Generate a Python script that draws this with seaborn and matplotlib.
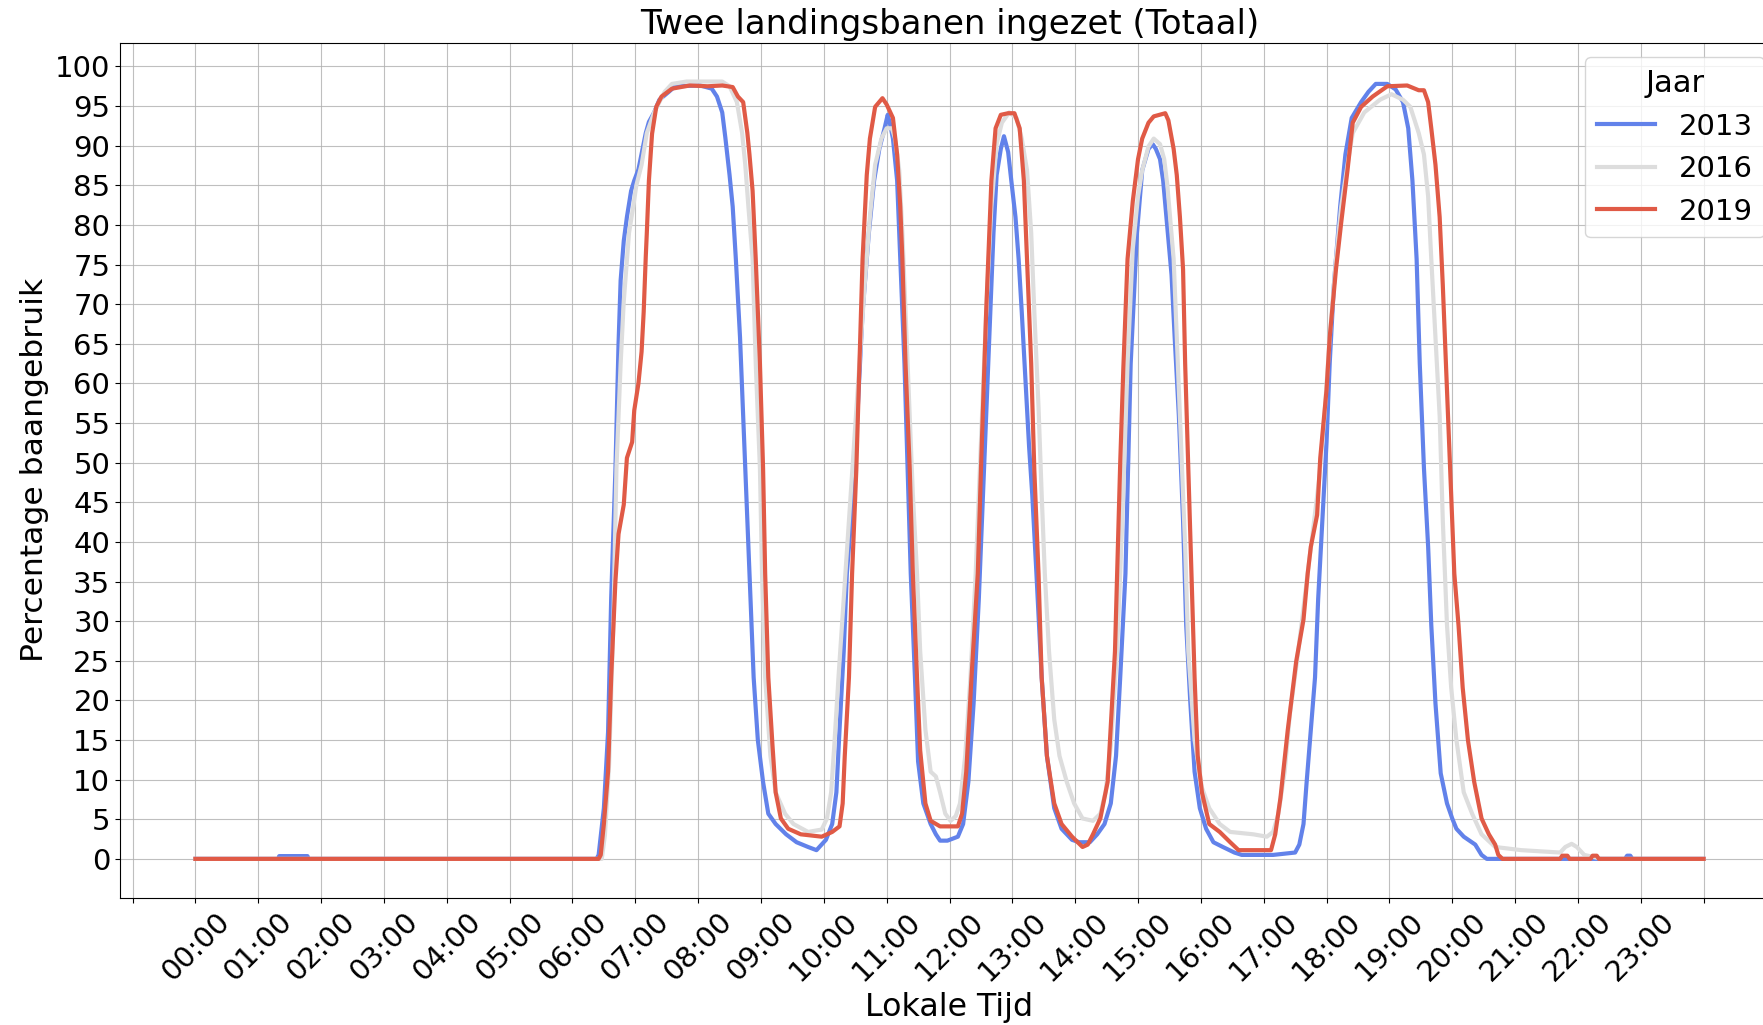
import numpy as np
import pandas as pd
import matplotlib
matplotlib.use("Agg")
import matplotlib.pyplot as plt
import seaborn as sns

# ---- data (minutes after midnight, percentage runway use) ----
t_2013 = [0, 79, 80, 107, 108, 383, 385, 390, 394, 397, 401, 404, 406, 409, 412, 416, 419, 423, 426, 430,
          433, 438, 443, 452, 458, 482, 493, 498, 503, 506, 510, 513, 516, 520, 523, 527, 530, 533, 537, 542,
          547, 554, 564, 574, 585, 593, 602, 608, 612, 615, 619, 622, 626, 629, 632, 637, 643, 648, 653, 658,
          661, 663, 666, 670, 673, 677, 680, 683, 687, 690, 695, 702, 707, 711, 718, 728, 733, 738, 743, 748,
          753, 758, 762, 765, 769, 772, 776, 779, 783, 786, 789, 793, 796, 799, 803, 808, 813, 820, 827, 837,
          844, 854, 861, 868, 874, 879, 883, 888, 893, 899, 904, 910, 914, 917, 921, 924, 928, 932, 935, 939,
          943, 946, 950, 954, 959, 965, 972, 981, 992, 999, 1029, 1050, 1054, 1058, 1061, 1065, 1069, 1072, 1076, 1080,
          1083, 1087, 1093, 1098, 1104, 1113, 1120, 1127, 1138, 1146, 1153, 1158, 1162, 1166, 1169, 1173, 1177, 1180, 1184, 1189,
          1195, 1200, 1204, 1211, 1222, 1228, 1233, 1365, 1367, 1370, 1372, 1440]
p_2013 = [0, 0, 0.35, 0.35, 0, 0, 0.5, 6.4, 16, 33, 49, 65, 73, 78, 81, 84.3, 85.6, 87, 89, 91.6,
          93, 94.2, 95.8, 96.8, 97.5, 97.6, 97.2, 96.2, 94.2, 91, 86.3, 82.3, 75.7, 65.8, 55.8, 42.7, 32.8, 22.9, 15, 9.7,
          5.7, 4.4, 3.1, 2.1, 1.5, 1.1, 2.4, 4.4, 8.4, 16.3, 26.2, 36, 42.7, 49.3, 55.8, 69, 79, 85.6, 89.6, 92.2,
          93.9, 92.9, 90.9, 85.6, 75.7, 62.5, 49.3, 36, 22.9, 12.3, 7, 4.4, 3.1, 2.3, 2.3, 2.8, 4.4, 9.7, 19.6, 32.8,
          49.3, 65.8, 79, 86.3, 89.6, 91.2, 89.2, 85.6, 81, 75.7, 69, 59.2, 52, 46, 36, 22.9, 13, 6.4, 3.8, 2.4,
          2.1, 2.1, 3.1, 4.4, 7, 13, 22.9, 36, 62.5, 79, 86.9, 89.6, 90.2, 89.6, 88.3, 85.6, 79.7, 73.7, 65.8, 55.9,
          42.7, 29.5, 19.6, 11, 6.4, 3.8, 2.1, 1.5, 0.8, 0.5, 0.5, 0.8, 1.8, 4.4, 9.7, 16.3, 22.9, 32.8, 42.7, 52.6,
          62.5, 72.4, 82.3, 88.9, 93.5, 95.5, 96.8, 97.8, 97.8, 97.1, 95.5, 92.2, 85.6, 75.7, 62.5, 49.3, 39.4, 29.5, 19.6, 10.8,
          7, 5.1, 3.8, 2.8, 1.8, 0.5, 0, 0, 0.4, 0.4, 0, 0]

t_2016 = [0, 388, 391, 395, 399, 402, 406, 409, 414, 418, 421, 426, 431, 438, 448, 455, 469, 503, 510, 517,
          522, 525, 528, 532, 535, 539, 541, 544, 549, 554, 563, 571, 585, 598, 603, 607, 610, 614, 619, 624,
          629, 634, 639, 644, 649, 655, 660, 665, 668, 672, 675, 678, 682, 685, 689, 692, 697, 702, 707, 711,
          716, 721, 726, 730, 735, 740, 745, 750, 755, 760, 765, 770, 777, 784, 789, 794, 798, 801, 805, 808,
          811, 815, 820, 825, 832, 839, 847, 857, 864, 869, 874, 880, 885, 890, 895, 900, 904, 910, 915, 921,
          925, 928, 934, 937, 941, 945, 948, 954, 961, 968, 978, 988, 1010, 1023, 1029, 1034, 1040, 1045, 1051, 1056,
          1062, 1067, 1073, 1078, 1083, 1089, 1094, 1100, 1105, 1116, 1131, 1142, 1153, 1160, 1168, 1173, 1177, 1180, 1184, 1188,
          1191, 1195, 1199, 1204, 1211, 1219, 1228, 1241, 1266, 1303, 1308, 1314, 1319, 1326, 1343, 1440]
p_2016 = [0, 0, 3, 12, 29.5, 49.3, 62.5, 70.4, 79, 82.3, 85, 87.6, 91.6, 94.2, 96.8, 97.8, 98.1, 98.1, 97.5, 95.5,
          91.6, 87.6, 82.3, 75.7, 62.5, 49.3, 36, 22.9, 13, 8.4, 5.7, 4.4, 3.4, 3.7, 5.1, 8.4, 14.3, 22.9, 32.8, 42.7,
          52.6, 62.5, 72.4, 81, 87.6, 90.9, 92.2, 92.2, 90.9, 86.9, 79, 69, 55.9, 46, 36, 26.2, 16.3, 11, 10.4, 8.4,
          5.7, 4.8, 5.4, 7, 13, 22.9, 36, 52.6, 69, 82.3, 90.2, 92.9, 94.2, 93.5, 90.9, 86.9, 79, 69, 57, 46,
          36, 26.2, 17.6, 13, 9.7, 7, 5.1, 4.8, 5.7, 8.4, 14.3, 26.2, 42.7, 62.5, 77, 83.6, 86.9, 89.9, 90.9, 90.2,
          88.3, 85, 75.7, 65.8, 52.6, 39.4, 26.2, 15, 9, 6.4, 4.4, 3.4, 3.1, 2.8, 3.4, 5.7, 11, 18.3, 24.2, 29.5,
          36.1, 41.4, 48, 55.9, 65.8, 75.7, 82.3, 87.6, 91.6, 94.2, 95.8, 96.5, 95.8, 94.9, 91.6, 88.9, 83.6, 75.7, 65.8, 55.9,
          42.7, 29.5, 21.6, 15, 8.4, 5.7, 3.1, 1.5, 1.1, 0.8, 1.5, 1.9, 1.5, 0.5, 0, 0]

t_2019 = [0, 385, 387, 390, 394, 397, 401, 404, 409, 412, 417, 419, 423, 426, 428, 430, 431, 433, 436, 440,
          445, 455, 472, 489, 503, 513, 518, 523, 527, 529, 532, 535, 539, 542, 544, 547, 551, 554, 559, 566,
          578, 598, 608, 615, 618, 620, 624, 627, 631, 634, 637, 641, 644, 649, 656, 660, 666, 670, 673, 675,
          678, 682, 685, 689, 692, 697, 702, 711, 728, 732, 736, 741, 747, 750, 755, 760, 764, 769, 776, 782,
          787, 791, 794, 798, 801, 805, 808, 813, 820, 827, 837, 847, 852, 857, 864, 871, 878, 883, 886, 890,
          895, 900, 904, 910, 915, 926, 929, 934, 937, 940, 943, 945, 948, 951, 954, 957, 961, 968, 978, 988,
          996, 1027, 1031, 1036, 1043, 1051, 1058, 1062, 1065, 1071, 1074, 1080, 1083, 1089, 1094, 1100, 1105, 1113, 1124, 1138,
          1157, 1168, 1173, 1177, 1180, 1184, 1188, 1191, 1195, 1199, 1202, 1206, 1210, 1215, 1221, 1228, 1235, 1241, 1244, 1248,
          1303, 1305, 1310, 1312, 1332, 1334, 1338, 1340, 1440]
p_2019 = [0, 0, 0.5, 4.4, 11, 23, 35, 41, 44.7, 50.6, 52.6, 56.6, 60, 64, 69, 76, 79, 85.6, 91.5, 94.9,
          96.2, 97.2, 97.6, 97.5, 97.6, 97.4, 96.2, 95.5, 91.6, 88.9, 84.3, 75.7, 62.5, 49.3, 36, 22.9, 14.3, 8.4, 5.1, 3.8,
          3.1, 2.8, 3.4, 4.1, 7, 13, 22.9, 36, 49, 62.5, 75.7, 86.3, 90.9, 94.9, 96, 95.2, 93.5, 88.9, 82.3, 75.7,
          62.5, 49.3, 36, 22.9, 13.7, 7, 4.8, 4.1, 4.1, 5.7, 11, 22.9, 36, 49, 69, 85.6, 92.2, 93.9, 94.1, 94.1,
          92.2, 85.6, 75.7, 62.5, 49, 36, 22.9, 13, 7, 4.4, 2.8, 1.5, 1.8, 3.1, 5.1, 9.7, 26.2, 50, 62, 75.7,
          83, 88.3, 90.9, 92.9, 93.7, 94.1, 93.2, 89.6, 86.3, 81, 74.4, 62.5, 49.3, 36.1, 22.9, 13, 8.4, 4.4, 3.4, 2.1,
          1.1, 1.1, 3.1, 7.7, 16.3, 24.9, 30.2, 36, 39.4, 43.4, 50.6, 59.2, 65.8, 74.4, 80.3, 86.9, 92.9, 94.9, 96.2, 97.5,
          97.6, 97, 97, 95.5, 92.2, 87.6, 81, 72.4, 59.2, 46, 36, 29.5, 21.6, 15, 9.7, 5.1, 3.1, 1.8, 0.5, 0,
          0, 0.4, 0.4, 0, 0, 0.4, 0.4, 0, 0]

years = ["2013", "2016", "2019"]
colors = ["#6282EA", "#DDDDDD", "#E05A46"]
tick_labels = [f"{h:02d}:00" for h in range(24)]

# ---- build long table ----
frames = []
for yr, t, p in zip(years, [t_2013, t_2016, t_2019], [p_2013, p_2016, p_2019]):
    frames.append(pd.DataFrame({"Lokale Tijd": t, "Percentage baangebruik": p, "Jaar": yr}))
df = pd.concat(frames, ignore_index=True)

W, H = 1763, 1025
fig = plt.figure(figsize=(W / 100, H / 100), dpi=100)
ax = fig.add_axes([120 / W, 127.3 / H, (1779 - 120) / W, (982.3 - 127.3) / H])

sns.lineplot(data=df, x="Lokale Tijd", y="Percentage baangebruik", hue="Jaar",
             hue_order=years, palette=dict(zip(years, colors)),
             linewidth=3, estimator=None, errorbar=None, sort=True, ax=ax)

ax.set_xlim(-72, 1512)
ax.set_ylim(-4.9, 103.0)
xt = np.arange(-60, 1441, 60)
ax.set_xticks(xt)
ax.set_xticklabels([""] + tick_labels + [""], rotation=45, fontsize=21)
ax.set_yticks(np.arange(0, 101, 5))
ax.tick_params(axis="y", labelsize=21)
ax.grid(True, color="#b0b0b0", linewidth=0.8, alpha=0.8)
ax.set_axisbelow(True)
ax.set_title("Twee landingsbanen ingezet (Totaal)", fontsize=24.5)
ax.set_xlabel("Lokale Tijd", fontsize=22.8)
ax.set_ylabel("Percentage baangebruik", fontsize=22.6)

leg = ax.legend(title="Jaar", loc="upper right", fontsize=21, title_fontsize=22)

fig.savefig("out.png", dpi=100)
